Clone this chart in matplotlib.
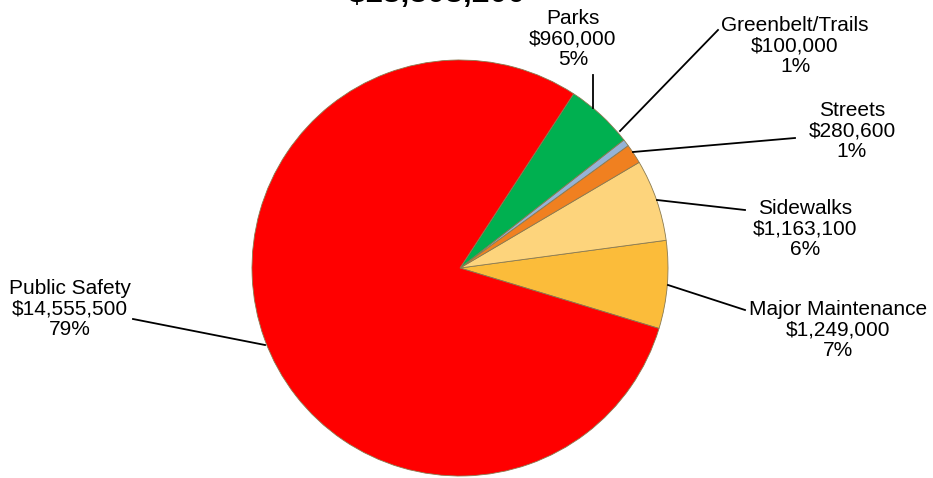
import matplotlib.pyplot as plt

plt.rcParams['font.family'] = ['Liberation Sans', 'DejaVu Sans']

# Data
categories = ['Major Maintenance', 'Sidewalks', 'Streets', 'Greenbelt/Trails', 'Parks', 'Public Safety']
amounts = [1249000, 1163100, 280600, 100000, 960000, 14555500]
pct_labels = ['7%', '6%', '1%', '1%', '5%', '79%']
colors = ['#fbbc3a', '#fdd47c', '#f08020', '#95b3d7', '#00b050', '#ff0000']

total = sum(amounts)

fig = plt.figure(figsize=(9.33, 4.78), dpi=100)
ax = fig.add_axes([0, 0, 1, 1])

# pie in pixel-like coordinates (y up)
cx, cy, r = 460, 478 - 268, 208
wedges, _ = ax.pie(amounts, colors=colors, startangle=-16.9, counterclock=True,
                   center=(cx, cy), radius=r, frame=True,
                   wedgeprops=dict(edgecolor='#8a7a50', linewidth=0.6))
ax.set_xlim(0, 933)
ax.set_ylim(0, 478)
ax.set_aspect('equal')
ax.axis('off')

# label positions (text center) and leader line ends, in pixels from top-left
label_pos = {
    'Major Maintenance': (838, 330),
    'Sidewalks': (805, 229),
    'Streets': (852, 131),
    'Greenbelt/Trails': (795, 46),
    'Parks': (573, 39),
    'Public Safety': (70, 309),
}
lines = {
    'Major Maintenance': [(668, 285), (745, 310)],
    'Sidewalks': [(657, 200), (745, 210)],
    'Streets': [(633, 152), (795, 138)],
    'Greenbelt/Trails': [(620, 131), (718, 30)],
    'Parks': [(593, 108), (593, 75)],
    'Public Safety': [(265, 345), (133, 319)],
}

for cat, amt, pct in zip(categories, amounts, pct_labels):
    txt = f'{cat}\n${amt:,.0f}\n{pct}'
    x, y = label_pos[cat]
    ax.text(x, 478 - y, txt, ha='center', va='center', fontsize=15, linespacing=1.08)
    (x0, y0), (x1, y1) = lines[cat]
    ax.plot([x0, x1], [478 - y0, 478 - y1], color='black', linewidth=1.3)

# title, mostly cut off at the top edge
fig.text(437 / 933, 1 - 9 / 478, f'${total:,.0f}', ha='center', va='bottom',
         fontsize=23, fontweight='bold')

fig.savefig('out.png', dpi=100)
